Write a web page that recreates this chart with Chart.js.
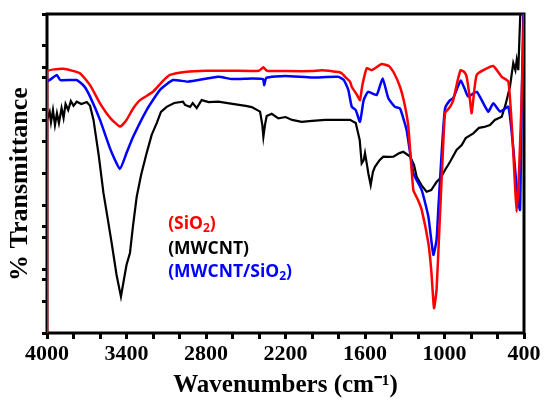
<!DOCTYPE html>
<html>
<head>
<meta charset="utf-8">
<script src="https://cdn.jsdelivr.net/npm/chart.js@4.4.1/dist/chart.umd.min.js"></script>
<style>
  html, body { margin: 0; padding: 0; background: #fff; }
  #wrap { width: 545px; height: 403px; }
</style>
</head>
<body>
<div id="wrap"><canvas id="grafico" width="545" height="403"></canvas></div>
<script>
// wavenumbers (cm-1) and % transmittance (arbitrary 0-100)
const wnSiO2 = [4000, 4000, 3877, 3751, 3675, 3600, 3520, 3449, 3400, 3350, 3298, 3200, 3130, 3072, 2946,
    2800, 2600, 2400, 2367, 2340, 2200, 2000, 1927, 1800, 1776, 1740, 1713, 1700, 1660, 1638, 1620, 1587,
    1550, 1474, 1420, 1386, 1336, 1300, 1273, 1235, 1200, 1172, 1122, 1100, 1079, 1060, 1038, 1015, 996,
    958, 934, 900, 878, 850, 833, 812, 795, 775, 757, 707, 632, 568, 518, 490, 470, 456, 440, 418, 400];
const tSiO2 = [0, 81.9, 82.8, 81.4, 77.7, 72.0, 67.3, 64.7, 66.8, 70.4, 73.0, 75.6, 78.8, 80.9, 81.9,
    82.2, 82.2, 82.2, 83.3, 82.2, 82.1, 82.1, 82.4, 81.8, 81.4, 79.9, 78.8, 77.2, 74.6, 73.0, 77.7, 83.0,
    82.4, 84.3, 83.7, 81.9, 77.2, 71.5, 64.7, 44.8, 41.7, 38.6, 28.2, 19.7, 7.8, 13.5, 33.3, 54.2, 68.9,
    70.9, 73.0, 79.3, 82.4, 81.8, 80.3, 74.6, 68.9, 76.2, 80.9, 82.4, 83.7, 80.3, 78.8, 63.6, 48.0, 38.0, 48.0, 73.0, 100];

const wnMWCNT = [4000, 3980, 3970, 3955, 3940, 3925, 3910, 3890, 3875, 3860, 3840, 3820, 3800, 3776, 3740,
    3700, 3675, 3649, 3610, 3574, 3540, 3512, 3475, 3442, 3420, 3400, 3374, 3350, 3323, 3290, 3248, 3210,
    3172, 3140, 3097, 3040, 2974, 2958, 2920, 2900, 2870, 2833, 2780, 2708, 2600, 2500, 2455, 2392, 2375,
    2367, 2355, 2342, 2304, 2254, 2200, 2150, 2078, 2000, 1900, 1826, 1760, 1713, 1670, 1640, 1625, 1610,
    1600, 1585, 1575, 1557, 1540, 1525, 1490, 1462, 1420, 1386, 1340, 1311, 1260, 1230, 1210, 1170, 1135,
    1100, 1059, 1030, 996, 958, 909, 870, 840, 783, 740, 700, 657, 620, 568, 540, 506, 481, 465, 455, 443, 435, 428];
const tMWCNT = [66.8, 69.3, 66.1, 69.9, 65.2, 68.9, 65.8, 70.5, 67.4, 71.8, 69.9, 72.7, 71.2, 72.5, 71.8,
    72.4, 71.2, 66.8, 55.8, 43.9, 35.4, 28.2, 18.2, 11.4, 16.6, 21.3, 25.1, 33.9, 42.7, 49.5, 56.4, 62.1,
    65.8, 69.3, 70.9, 72.1, 72.5, 71.5, 70.9, 72.1, 70.5, 73.0, 72.4, 72.5, 71.8, 71.2, 70.8, 69.4, 65.2,
    61.5, 65.2, 68.0, 68.7, 67.3, 67.7, 66.8, 66.2, 66.5, 66.8, 66.8, 66.8, 66.8, 65.8, 60.5, 53.2, 54.2,
    56.4, 52.7, 50.1, 46.4, 50.5, 52.1, 54.2, 55.3, 55.2, 55.3, 56.4, 56.8, 55.3, 52.7, 49.0, 46.1, 44.3,
    44.8, 47.4, 48.6, 51.1, 53.7, 57.4, 58.9, 61.1, 62.6, 64.3, 64.6, 65.2, 66.8, 67.8, 71.5, 77.2, 84.6, 82.4, 85.6, 82.4, 91.8, 100];

const wnComposite = [4000, 3960, 3927, 3900, 3776, 3720, 3675, 3600, 3520, 3449, 3400, 3350, 3248, 3147,
    3049, 2936, 2708, 2600, 2455, 2370, 2360, 2345, 2204, 2000, 1803, 1760, 1726, 1700, 1670, 1638, 1610,
    1577, 1512, 1467, 1424, 1374, 1336, 1286, 1235, 1172, 1122, 1084, 1060, 1047, 1020, 996, 958, 934, 878,
    850, 821, 757, 670, 632, 580, 518, 480, 450, 430, 420, 405];
const tComposite = [78.8, 79.9, 80.9, 79.3, 79.3, 77.4, 74.1, 66.8, 57.4, 51.4, 56.4, 61.5, 69.9, 76.2,
    79.3, 78.8, 80.3, 79.6, 79.8, 79.6, 77.7, 80.0, 80.6, 80.1, 80.3, 79.3, 76.2, 70.9, 69.9, 66.2, 73.0,
    75.6, 74.6, 79.8, 73.6, 70.9, 70.4, 63.6, 50.1, 44.8, 36.5, 24.5, 29.2, 38.6, 57.4, 70.4, 73.0, 73.6, 79.1,
    76.8, 74.1, 75.6, 69.4, 72.0, 69.4, 70.9, 57.4, 43.3, 38.6, 66.8, 100];

const xTicksLabels = [4000, 3400, 2800, 2200, 1600, 1000, 400];
const yTicks = [0, 10, 16.67, 20, 30, 33.33, 40, 50, 60, 66.67, 70, 80, 83.33, 90, 100];
const tituloY = "% Transmittance";

const etiquetas = [
    { text: "(SiO", sub: "2", tail: ")", color: "#ff0000" },
    { text: "(MWCNT)", sub: "", tail: "", color: "#000000" },
    { text: "(MWCNT/SiO", sub: "2", tail: ")", color: "#0000ff" },
];

const toPoints = (xs, ys) => xs.map((x, i) => ({ x: x, y: ys[i] }));

// black frame around the plot
const marco = {
    id: "marco",
    beforeDatasetsDraw(chart) {
        const { ctx, chartArea: a } = chart;
        ctx.save();
        ctx.strokeStyle = "#000";
        ctx.lineWidth = 3;
        ctx.strokeRect(a.left, a.top, a.right - a.left, a.bottom - a.top);
        ctx.restore();
    },
};

// y title sits a bit lower than the plot centre in the original
const tituloEje = {
    id: "tituloEje",
    afterDraw(chart) {
        const { ctx, chartArea: a } = chart;
        ctx.save();
        ctx.translate(20, a.top + 0.533 * (a.bottom - a.top));
        ctx.rotate(-Math.PI / 2);
        ctx.textAlign = "center";
        ctx.textBaseline = "middle";
        ctx.fillStyle = "#000";
        ctx.font = "bold 26px 'Liberation Serif'";
        ctx.fillText(tituloY, 0, 0);
        ctx.restore();
    },
};

const leyenda = {
    id: "leyenda",
    afterDatasetsDraw(chart) {
        const { ctx, chartArea: a } = chart;
        const x0 = a.left + 0.254 * (a.right - a.left);
        const ys = [0.657, 0.737, 0.809];
        ctx.save();
        ctx.textBaseline = "middle";
        etiquetas.forEach((e, i) => {
            const y = a.top + ys[i] * (a.bottom - a.top);
            ctx.fillStyle = e.color;
            ctx.font = "bold 17.5px 'Open Sans'";
            ctx.fillText(e.text, x0, y);
            let x = x0 + ctx.measureText(e.text).width;
            if (e.sub) {
                ctx.font = "bold 12px 'Open Sans'";
                ctx.fillText(e.sub, x, y + 5);
                x += ctx.measureText(e.sub).width;
            }
            if (e.tail) {
                ctx.font = "bold 17.5px 'Open Sans'";
                ctx.fillText(e.tail, x, y);
            }
        });
        ctx.restore();
    },
};

const dataGrafico = {
    datasets: [
        {
            label: "SiO2",
            data: toPoints(wnSiO2, tSiO2),
            borderColor: "#ff0000",
            borderWidth: 2.5,
            tension: 0.15,
        },
        {
            label: "MWCNT/SiO2",
            data: toPoints(wnComposite, tComposite),
            borderColor: "#0000ff",
            borderWidth: 2.5,
            tension: 0.15,
        },
        {
            label: "MWCNT",
            data: toPoints(wnMWCNT, tMWCNT),
            borderColor: "#000000",
            borderWidth: 2.2,
            tension: 0,
        },
    ],
};

const configGrafico = {
    type: "line",
    data: dataGrafico,
    options: {
        responsive: false,
        animation: false,
        parsing: false,
        elements: { point: { radius: 0 } },
        layout: { padding: { top: 14, right: 21, left: 0, bottom: 0 } },
        plugins: {
            legend: { display: false },
            tooltip: { enabled: false },
        },
        scales: {
            x: {
                type: "linear",
                reverse: true,
                min: 400,
                max: 4000,
                afterFit: (s) => { s.height = 70; },
                ticks: {
                    stepSize: 200,
                    autoSkip: false,
                    maxRotation: 0,
                    padding: 2,
                    color: "#000",
                    font: { family: "'Liberation Serif'", size: 22, weight: "bold" },
                    callback: (v) => (xTicksLabels.includes(v) ? String(v) : ""),
                },
                grid: {
                    drawOnChartArea: false,
                    tickLength: 6,
                    tickWidth: 3,
                    tickColor: "#000",
                },
                border: { display: false },
                title: {
                    display: true,
                    text: "Wavenumbers (cm⁻¹)",
                    color: "#000",
                    font: { family: "'Liberation Serif'", size: 25, weight: "bold" },
                    padding: { top: 0, bottom: 2 },
                },
            },
            y: {
                min: 0,
                max: 100,
                afterFit: (s) => { s.width = 47; },
                afterBuildTicks: (s) => { s.ticks = yTicks.map((v) => ({ value: v })); },
                ticks: {
                    padding: 0,
                    callback: () => "",
                },
                grid: {
                    drawOnChartArea: false,
                    tickLength: 5,
                    tickWidth: 3,
                    tickColor: "#000",
                },
                border: { display: false },
                title: { display: false },
            },
        },
    },
    plugins: [marco, leyenda, tituloEje],
};

const grafico = new Chart(document.getElementById("grafico"), configGrafico);
</script>
</body>
</html>
